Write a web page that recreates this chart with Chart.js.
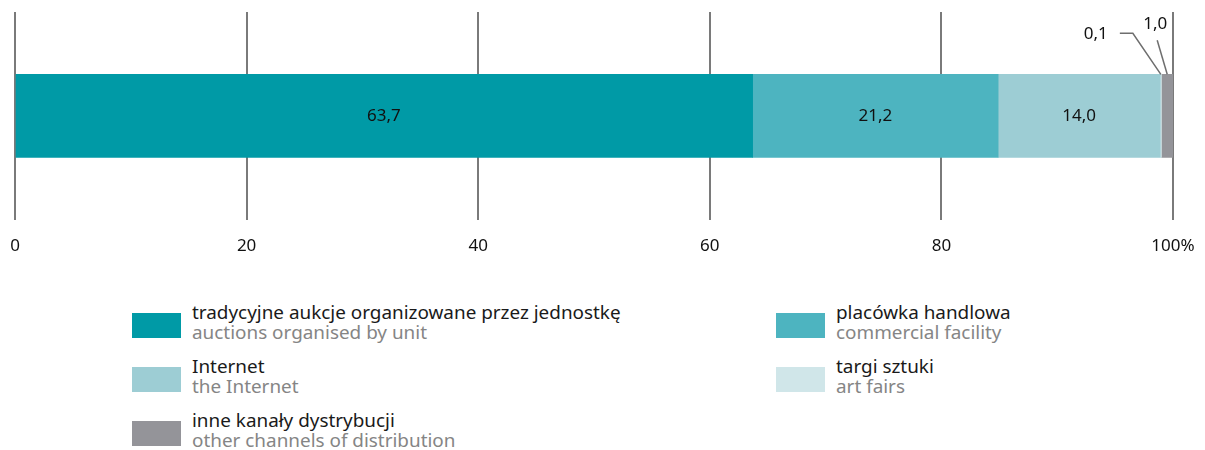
<!DOCTYPE html>
<html>
<head>
<meta charset="utf-8">
<script src="https://cdn.jsdelivr.net/npm/chart.js@4"></script>
<style>
  body { margin: 0; background: #fff; font-family: "Noto Sans", sans-serif; }
  #wrap { position: relative; width: 1205px; height: 450px; overflow: hidden; }
  #chartBox { position: absolute; left: 0; top: 0; width: 1205px; height: 272px; }
  .item { position: absolute; }
  .sw { position: absolute; left: 0; top: 11px; width: 49px; height: 25px; }
  .pl { position: absolute; left: 60px; top: 0; font-size: 18.9px; color: #1a1a1a; white-space: nowrap; line-height: 20px; }
  .en { position: absolute; left: 60px; top: 20px; font-size: 18.9px; color: #858585; white-space: nowrap; line-height: 20px; }
</style>
</head>
<body>
<div id="wrap">
  <div id="chartBox"><canvas id="chart"></canvas></div>
  <div id="legend"></div>
</div>
<script>
const channelsPl = ['tradycyjne aukcje organizowane przez jednostkę', 'placówka handlowa', 'Internet', 'targi sztuki', 'inne kanały dystrybucji'];
const channelsEn = ['auctions organised by unit', 'commercial facility', 'the Internet', 'art fairs', 'other channels of distribution'];
const shares = [63.7, 21.2, 14.0, 0.1, 1.0];
const colors = ['#009aa6', '#4db4c0', '#9dcdd4', '#d0e6e9', '#949499'];
const tickValues = [0, 20, 40, 60, 80, 100];

// legend order on the page: left column, right column
const legendSpots = [
  { i: 0, x: 132, y: 302 },
  { i: 1, x: 776, y: 302 },
  { i: 2, x: 132, y: 356 },
  { i: 3, x: 776, y: 356 },
  { i: 4, x: 132, y: 410 }
];

const legend = document.getElementById('legend');
legendSpots.forEach(s => {
  const d = document.createElement('div');
  d.className = 'item';
  d.style.left = s.x + 'px';
  d.style.top = s.y + 'px';
  d.innerHTML = '<div class="sw" style="background:' + colors[s.i] + '"></div>' +
    '<div class="pl">' + channelsPl[s.i] + '</div>' +
    '<div class="en">' + channelsEn[s.i] + '</div>';
  legend.appendChild(d);
});

function fmt(v) {
  return v.toFixed(1).replace('.', ',');
}

// labels inside the wide segments, leader lines for the thin ones
const valueLabels = {
  id: 'valueLabels',
  afterDatasetsDraw(chart) {
    const ctx = chart.ctx;
    const xs = chart.scales.x;
    ctx.save();
    ctx.font = '17px "Noto Sans"';
    ctx.fillStyle = '#111';
    ctx.textAlign = 'center';
    ctx.textBaseline = 'middle';
    let start = 0;
    const mids = [];
    shares.forEach((v, i) => {
      const bar = chart.getDatasetMeta(i).data[0];
      mids.push({ x: xs.getPixelForValue(start + v / 2), top: bar.y - bar.height / 2, y: bar.y });
      if (v >= 5) ctx.fillText(fmt(v), xs.getPixelForValue(start + v / 2), bar.y);
      start += v;
    });

    ctx.strokeStyle = '#6e6e6e';
    ctx.lineWidth = 1.5;
    // 0,1 leader
    const a = mids[3];
    ctx.beginPath();
    ctx.moveTo(a.x - 41, a.top - 41);
    ctx.lineTo(a.x - 28, a.top - 41);
    ctx.lineTo(a.x, a.top);
    ctx.stroke();
    ctx.textAlign = 'right';
    ctx.fillText(fmt(shares[3]), a.x - 53, a.top - 40);
    // 1,0 leader
    const b = mids[4];
    ctx.beginPath();
    ctx.moveTo(b.x - 10, b.top - 34);
    ctx.lineTo(b.x, b.top);
    ctx.stroke();
    ctx.textAlign = 'center';
    ctx.fillText(fmt(shares[4]), b.x - 12, b.top - 50);
    ctx.restore();
  }
};

new Chart(document.getElementById('chart'), {
  type: 'bar',
  data: {
    labels: [''],
    datasets: shares.map((v, i) => ({
      label: channelsPl[i],
      data: [v],
      backgroundColor: colors[i],
      borderWidth: 0,
      barThickness: 83
    }))
  },
  options: {
    indexAxis: 'y',
    responsive: true,
    maintainAspectRatio: false,
    animation: false,
    layout: { padding: { top: 12, left: 15, right: 32, bottom: 0 } },
    plugins: { legend: { display: false }, tooltip: { enabled: false } },
    scales: {
      x: {
        stacked: true,
        min: 0,
        max: 100,
        afterBuildTicks(scale) {
          scale.ticks = tickValues.map(v => ({ value: v }));
        },
        // keep the plot edges on the layout padding, labels may overhang
        afterFit(scale) {
          scale.paddingLeft = 0;
          scale.paddingRight = 0;
        },
        border: { display: false },
        grid: { color: '#7a7a7a', lineWidth: 2, drawTicks: false },
        ticks: {
          padding: 16,
          color: '#111',
          font: { family: 'Noto Sans', size: 17 },
          callback: v => v === 100 ? '100%' : v
        }
      },
      y: { stacked: true, display: false }
    }
  },
  plugins: [valueLabels]
});
</script>
</body>
</html>
